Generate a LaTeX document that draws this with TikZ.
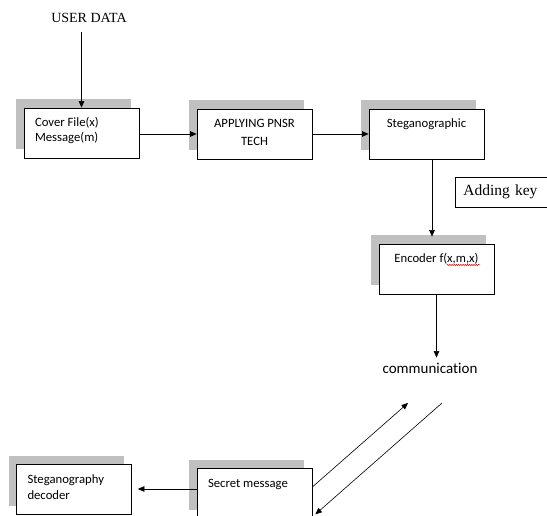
\documentclass[tikz,border=0pt]{standalone}
\usepackage{fontspec}
\setmainfont{Carlito}[Ligatures=CommonOff]
\newfontfamily\tms{Liberation Serif}
\usetikzlibrary{arrows.meta,shadows,decorations.pathmorphing,calc}
\definecolor{shadowgray}{RGB}{192,192,192}
\newcommand{\bxl}[1]{\parbox[c][33pt][t]{93pt}{\raggedright\strut #1}}
\newcommand{\bxc}[1]{\parbox[c][33pt][t]{93pt}{\centering\strut #1}}
\tikzset{
  stepbox/.style={draw, line width=0.7pt, fill=white, inner xsep=11pt, inner ysep=8.5pt,
    font=\fontsize{12.7}{15}\selectfont,
    drop shadow={shadow xshift=-8pt, shadow yshift=8.5pt, fill=shadowgray, opacity=1}},
  arr/.style={draw, line width=0.6pt, -{Triangle[length=6.5pt,width=5.5pt]}}
}
\begin{document}
\begin{tikzpicture}[x=1pt,y=-1pt]
\useasboundingbox (0,0) rectangle (547,516);
\clip (0,0) rectangle (547,516);
% boxes
\node[stepbox] (cover) at (81.5,133) {\bxl{Cover File(x)\\Message(m)}};
\node[stepbox] (pnsr) at (254.5,134) {\bxc{\vspace{2pt}APPLYING PNSR\\[1pt]TECH}};
\node[stepbox] (steg) at (426.5,134) {\bxc{Steganographic}};
\node[stepbox] (enc) at (436.5,269) {\bxc{Encoder f(x,m,x)}};
\node[stepbox] (dec) at (74,489) {\bxl{Steganography\\[1.5pt]decoder}};
\node[stepbox] (secret) at (254.5,493) {\bxl{Secret message}};
% plain texts
\node[inner sep=0pt, font=\tms\fontsize{14}{16}\selectfont] (user) at (89,18) {USER DATA};
\node[inner sep=5pt, font=\fontsize{15}{18}\selectfont] (comm) at (430,368) {communication};
\node[draw, line width=0.7pt, anchor=west, inner xsep=8pt, minimum height=30pt, minimum width=110pt,
  text width=94pt, align=left, font=\tms\fontsize{15.5}{18}\selectfont] (key) at (455,192) {Adding key};
% free ends
\coordinate (up) at (408,403);
\coordinate (dn) at (442,403);
% spell-check underline
\draw[red, line width=0.5pt, decorate, decoration={snake, amplitude=0.7pt, segment length=2.2pt}]
  ($(enc.center)+(10.5,-4)$) -- ($(enc.center)+(43.5,-4)$);
% connectors
\draw[arr, shorten <=9pt] (cover.north |- user.south) -- (cover.north);
\draw[arr] (cover.east |- pnsr.west) -- (pnsr.west);
\draw[arr] (pnsr.east) -- (steg.west);
\draw[arr, shorten >=7pt] ([xshift=5.5pt]steg.south) -- ([xshift=5.5pt]steg.south |- enc.north);
\draw[arr] (enc.south) -- (enc.south |- comm.north);
\draw[arr] ([yshift=6pt]secret.east) -- (up);
\draw[arr] (dn) -- ([xshift=3pt,yshift=4pt]secret.south east);
\draw[arr, shorten >=6pt] ([yshift=4pt]secret.west) -- (dec.east);
\end{tikzpicture}
\end{document}
